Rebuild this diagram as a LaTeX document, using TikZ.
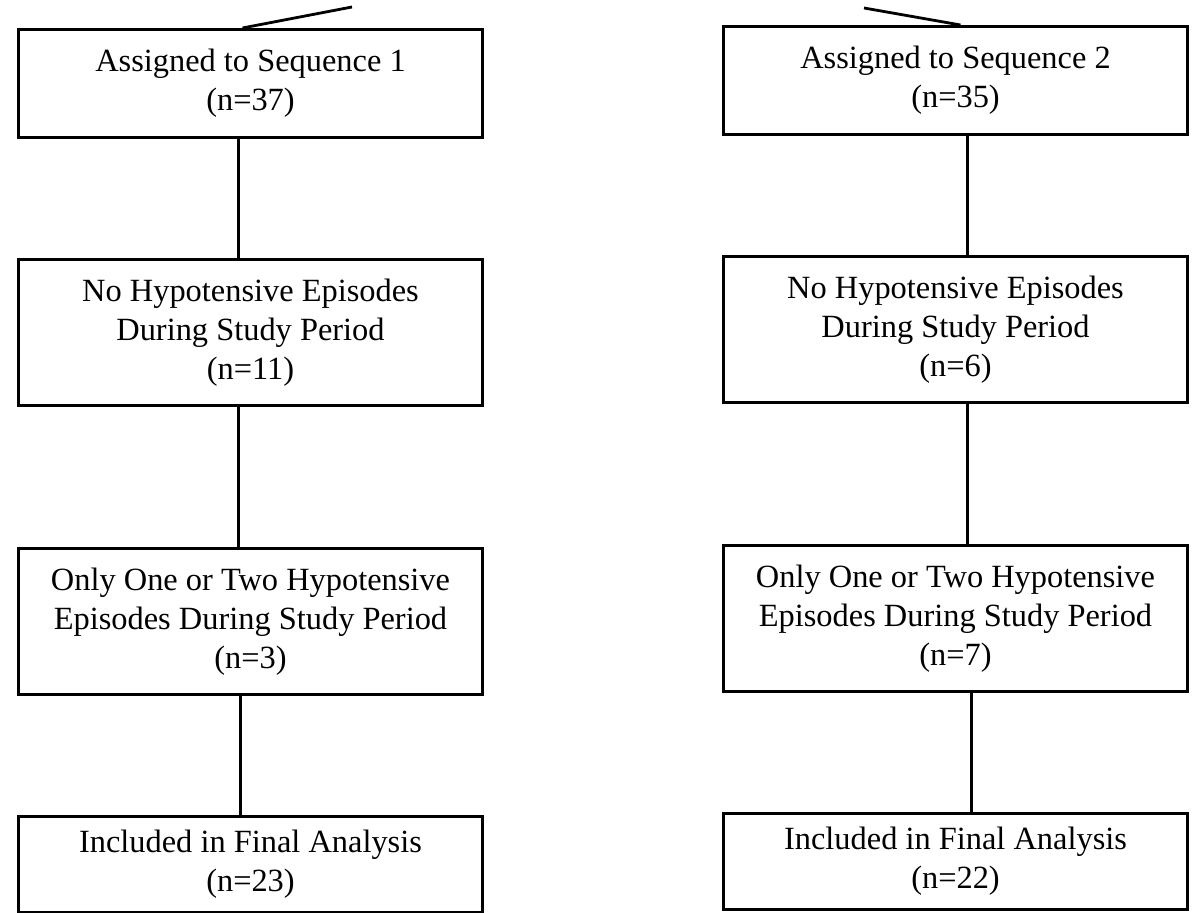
\documentclass[tikz,border=0pt]{standalone}
\usepackage{fontspec}
\setmainfont{Liberation Serif}
\usetikzlibrary{positioning}
\tikzset{
  % Specifications for style of nodes:
  base/.style = {
    rectangle,
    draw=black,
    line width=1.5pt,
    align=center,
    font=\fontsize{16.2}{19.5}\selectfont
  },
  stage/.style = {
    base,
    minimum width=232pt,
    minimum height=73pt,
    node distance=59.5pt
  },
  entry/.style = {
    stage,
    minimum height=54pt
  },
  final/.style = {
    stage,
    minimum height=48pt
  },
  link/.style = {
    draw=black,
    line width=1.1pt
  },
}
\begin{document}
\begin{tikzpicture}
    \useasboundingbox (0,0) rectangle (596pt,-456.5pt);
    % Specification of nodes (position, etc.)
    \node[entry, anchor=north west]                (seq1)     at (8.5pt,-14pt) {Assigned to Sequence 1\\(n=37)};
    \node[stage, below=of seq1]                    (nohypo1)  {No Hypotensive Episodes\\During Study Period\\(n=11)};
    \node[stage, below=of nohypo1, yshift=-10.5pt] (fewhypo1) {Only One or Two Hypotensive\\Episodes During Study Period\\(n=3)};
    \node[final, below=of fewhypo1]                (final1)   {Included in Final Analysis\\(n=23)};
    \node[entry, anchor=north west]                (seq2)     at (361pt,-12.5pt) {Assigned to Sequence 2\\(n=35)};
    \node[stage, below=of seq2]                    (nohypo2)  {No Hypotensive Episodes\\During Study Period\\(n=6)};
    \node[stage, below=of nohypo2, yshift=-10.5pt] (fewhypo2) {Only One or Two Hypotensive\\Episodes During Study Period\\(n=7)};
    \node[final, below=of fewhypo2]                (final2)   {Included in Final Analysis\\(n=22)};
    % Loose ends coming from above the picture
    \coordinate (split1) at (176pt,-3.5pt);
    \coordinate (split2) at (432pt,-4pt);
    % Connectors
    \draw[link, line width=1.4pt] (split1) -- ([xshift=-4pt]seq1.north);
    \draw[link, line width=1.4pt] (split2) -- ([xshift=2.5pt]seq2.north);
    \draw[link] ([xshift=-6pt]seq1.south)     -- ([xshift=-6pt]nohypo1.north);
    \draw[link] ([xshift=-6pt]nohypo1.south)  -- ([xshift=-6pt]fewhypo1.north);
    \draw[link] ([xshift=-5pt]fewhypo1.south) -- ([xshift=-5pt]final1.north);
    \draw[link] ([xshift=6pt]seq2.south)      -- ([xshift=6pt]nohypo2.north);
    \draw[link] ([xshift=6pt]nohypo2.south)   -- ([xshift=6pt]fewhypo2.north);
    \draw[link] ([xshift=8pt]fewhypo2.south)  -- ([xshift=8pt]final2.north);
  \end{tikzpicture}
\end{document}
